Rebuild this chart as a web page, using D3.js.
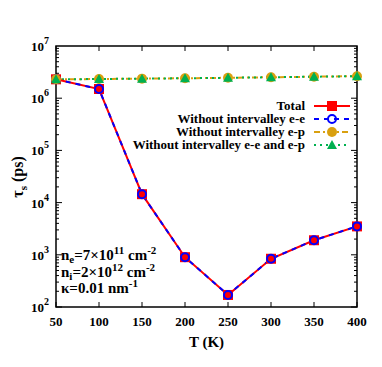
<!DOCTYPE html>
<html><head><meta charset="utf-8">
<script src="https://cdn.jsdelivr.net/npm/d3@7"></script>
<style>body{margin:0;background:#fff}svg{display:block}text{font-family:"Liberation Serif","Times New Roman",serif;font-weight:bold}</style>
</head><body>
<script>
const temps = [50,100,150,200,250,300,350,400];
const total = [2.3e6,1.5e6,1.45e4,900,170,840,1.9e3,3.5e3];
const noEE = [2.3e6,1.5e6,1.45e4,900,170,840,1.9e3,3.5e3];
const noEP = [2.3e6,2.33e6,2.37e6,2.41e6,2.46e6,2.52e6,2.58e6,2.64e6];
const noEEEP = [2.3e6,2.33e6,2.37e6,2.41e6,2.46e6,2.52e6,2.58e6,2.64e6];
const xTicks = [50,100,150,200,250,300,350,400];
const yExps = [2,3,4,5,6,7];
const seriesNames = ["Total","Without intervalley e-e","Without intervalley e-p","Without intervalley e-e and e-p"];

const W=382,H=367;
const L=56,R=357,T=46,B=307;
const svg=d3.select("body").append("svg").attr("width",W).attr("height",H);
const x=d3.scaleLinear().domain([50,400]).range([L,R]);
const y=d3.scaleLog().domain([1e2,1e7]).range([B,T]);

svg.append("rect").attr("x",L).attr("y",T).attr("width",R-L).attr("height",B-T).attr("fill","none").attr("stroke","#000").attr("stroke-width",1.5);

const g=svg.append("g").attr("stroke","#000").attr("stroke-width",1);
xTicks.forEach(t=>{
  g.append("line").attr("x1",x(t)).attr("x2",x(t)).attr("y1",B).attr("y2",B-5);
  g.append("line").attr("x1",x(t)).attr("x2",x(t)).attr("y1",T).attr("y2",T+5);
});
for(let e=2;e<7;e++){
  for(let m=1;m<10;m++){
    const v=m*Math.pow(10,e); const len=m===1?6:3;
    g.append("line").attr("x1",L).attr("x2",L+len).attr("y1",y(v)).attr("y2",y(v));
    g.append("line").attr("x1",R).attr("x2",R-len).attr("y1",y(v)).attr("y2",y(v));
  }
}
xTicks.forEach(t=>{
  svg.append("text").attr("x",x(t)).attr("y",326).attr("text-anchor","middle").attr("font-size",13).text(t);
});
yExps.forEach(e=>{
  const t=svg.append("text").attr("x",49).attr("y",y(Math.pow(10,e))+5).attr("text-anchor","end").attr("font-size",13);
  t.append("tspan").text("10");
  t.append("tspan").attr("dy",-7).attr("font-size",10).text(e);
});
svg.append("text").attr("x",(L+R)/2).attr("y",347).attr("text-anchor","middle").attr("font-size",15).text("T (K)");
const yl=svg.append("text").attr("transform","translate(23,177) rotate(-90)").attr("text-anchor","middle").attr("font-size",16);
yl.append("tspan").text("τ");
yl.append("tspan").attr("dy",4).attr("font-size",11).text("s");
yl.append("tspan").attr("dy",-4).text(" (ps)");

const line=d3.line().x((d,i)=>x(temps[i])).y(d=>y(d));
const red="#ff0000",blue="#0000ff",gold="#d9a010",green="#00b050";

svg.append("path").datum(noEP).attr("d",line).attr("fill","none").attr("stroke",gold).attr("stroke-width",2).attr("stroke-dasharray","6,3,2,3");
svg.append("path").datum(noEEEP).attr("d",line).attr("fill","none").attr("stroke",green).attr("stroke-width",2).attr("stroke-dasharray","2,4");
svg.append("path").datum(total).attr("d",line).attr("fill","none").attr("stroke",red).attr("stroke-width",2);
svg.append("path").datum(noEE).attr("d",line).attr("fill","none").attr("stroke",blue).attr("stroke-width",2).attr("stroke-dasharray","5,5");

function sq(g,cx,cy){g.append("rect").attr("x",cx-5).attr("y",cy-5).attr("width",10).attr("height",10).attr("fill",red);}
function circO(g,cx,cy){g.append("circle").attr("cx",cx).attr("cy",cy).attr("r",4).attr("fill","none").attr("stroke",blue).attr("stroke-width",2);}
function circF(g,cx,cy){g.append("circle").attr("cx",cx).attr("cy",cy).attr("r",5).attr("fill",gold);}
function tri(g,cx,cy){g.append("path").attr("d",`M${cx},${cy-5}L${cx+5},${cy+4}L${cx-5},${cy+4}Z`).attr("fill",green);}

const mg=svg.append("g");
temps.forEach((t,i)=>sq(mg,x(t),y(total[i])));
temps.forEach((t,i)=>circO(mg,x(t),y(noEE[i])));
temps.forEach((t,i)=>circF(mg,x(t),y(noEP[i])));
temps.forEach((t,i)=>tri(mg,x(t),y(noEEEP[i])));

const lx1=314,lx2=350,lxm=332;
const ly=[106,119,132,145];
const styles=[
  {c:red,d:null,m:sq},
  {c:blue,d:"5,5",m:circO},
  {c:gold,d:"6,3,2,3",m:circF},
  {c:green,d:"2,4",m:tri}];
seriesNames.forEach((n,i)=>{
  svg.append("text").attr("x",305).attr("y",ly[i]+4).attr("text-anchor","end").attr("font-size",13).text(n);
  const l=svg.append("line").attr("x1",lx1).attr("x2",lx2).attr("y1",ly[i]).attr("y2",ly[i]).attr("stroke",styles[i].c).attr("stroke-width",2);
  if(styles[i].d) l.attr("stroke-dasharray",styles[i].d);
  styles[i].m(svg,lxm,ly[i]);
});

function ann(yy,parts){
  const t=svg.append("text").attr("x",61).attr("y",yy).attr("font-size",15);
  parts.forEach(p=>{const s=t.append("tspan").text(p[0]); if(p[1]) s.attr("dy",p[1]); if(p[2]) s.attr("font-size",p[2]);});
}
ann(260,[["n"],["e",3,11],["=7×10",-3],["11",-6,11],[" cm",6],["-2",-6,11]]);
ann(277,[["n"],["i",3,11],["=2×10",-3],["12",-6,11],[" cm",6],["-2",-6,11]]);
ann(293,[["κ=0.01 nm"],["-1",-6,11]]);
</script>
</body></html>
